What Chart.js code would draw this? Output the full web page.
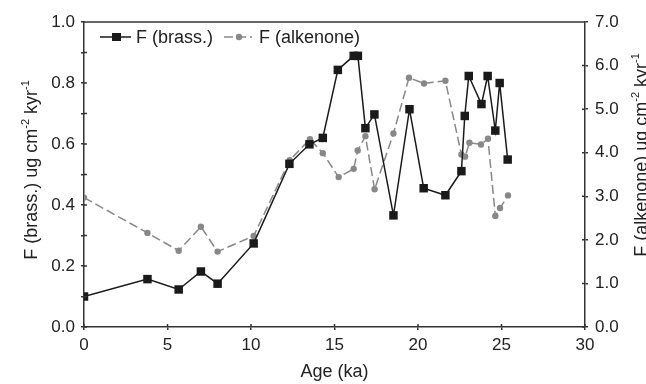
<!DOCTYPE html>
<html lang="en">
<head>
<meta charset="UTF-8" />
<title>flux vs age</title>
<script src="https://cdn.jsdelivr.net/npm/chart.js"></script>
<style>
  html, body { margin: 0; padding: 0; background: #fff; }
  #wrap { width: 646px; height: 384px; }
</style>
</head>
<body>
<div id="wrap"><canvas id="fluxChart" width="646" height="384"></canvas></div>
<script>
  // age (ka) and fluxes
  const brassAge  = [0, 3.8, 5.67, 7.0, 8.0, 10.16, 12.3, 13.5, 14.3, 15.2, 16.15, 16.4, 16.85, 17.39, 18.53, 19.49, 20.34, 21.64, 22.6, 22.8, 23.04, 23.8, 24.17, 24.63, 24.89, 25.37];
  const brassFlux = [0.10, 0.157, 0.123, 0.182, 0.142, 0.274, 0.535, 0.599, 0.62, 0.843, 0.889, 0.889, 0.652, 0.697, 0.366, 0.714, 0.455, 0.432, 0.511, 0.692, 0.823, 0.731, 0.823, 0.644, 0.80, 0.549];

  const alkAge  = [0, 3.8, 5.67, 7.0, 8.0, 10.16, 12.32, 13.53, 14.3, 15.25, 16.15, 16.39, 16.85, 17.4, 18.53, 19.46, 20.36, 21.64, 22.6, 22.82, 23.08, 23.77, 24.19, 24.63, 24.91, 25.39];
  const alkFlux = [2.97, 2.16, 1.75, 2.30, 1.73, 2.09, 3.83, 4.31, 3.99, 3.44, 3.63, 4.05, 4.38, 3.16, 4.44, 5.72, 5.59, 5.65, 3.96, 3.91, 4.23, 4.19, 4.32, 2.55, 2.73, 3.02];

  const xTicks = [0, 5, 10, 15, 20, 25, 30];
  const leftTicks = [0, 0.2, 0.4, 0.6, 0.8, 1.0];
  const rightTicks = [0, 1, 2, 3, 4, 5, 6, 7];

  const FONT = '"Liberation Sans", Arial, sans-serif';
  const AXIS = '#333';
  const TEXT = '#222';
  const IN_TICK = 3;

  function drawTitle(ctx, parts, x, y, size, rotate) {
    ctx.save();
    ctx.translate(x, y);
    if (rotate) ctx.rotate(-Math.PI / 2);
    let total = 0;
    parts.forEach(p => {
      ctx.font = (p.sup ? Math.round(size * 0.62) : size) + 'px ' + FONT;
      total += ctx.measureText(p.t).width;
    });
    let cx = -total / 2;
    ctx.fillStyle = TEXT;
    ctx.textBaseline = 'alphabetic';
    parts.forEach(p => {
      ctx.font = (p.sup ? Math.round(size * 0.62) : size) + 'px ' + FONT;
      ctx.fillText(p.t, cx, p.sup ? -size * 0.42 : 0);
      cx += ctx.measureText(p.t).width;
    });
    ctx.restore();
  }

  const decor = {
    id: 'decor',
    afterDraw(chart) {
      const ctx = chart.ctx;
      const a = chart.chartArea;
      const sx = chart.scales.x, sy = chart.scales.y, sy1 = chart.scales.y1;
      ctx.save();
      ctx.strokeStyle = AXIS;
      ctx.lineWidth = 1.5;
      ctx.beginPath();
      // top frame line
      ctx.moveTo(a.left, a.top);
      ctx.lineTo(a.right, a.top);
      // inner half of the crossing ticks
      sx.ticks.forEach(t => {
        const px = sx.getPixelForValue(t.value);
        ctx.moveTo(px, a.bottom); ctx.lineTo(px, a.bottom - IN_TICK);
      });
      sy.ticks.forEach(t => {
        const py = sy.getPixelForValue(t.value);
        ctx.moveTo(a.left, py); ctx.lineTo(a.left + IN_TICK, py);
      });
      sy1.ticks.forEach(t => {
        const py = sy1.getPixelForValue(t.value);
        ctx.moveTo(a.right, py); ctx.lineTo(a.right - IN_TICK, py);
      });
      ctx.stroke();
      ctx.restore();

      // legend inside the plot
      ctx.save();
      const ly = 37;
      ctx.strokeStyle = '#1a1a1a';
      ctx.lineWidth = 1.5;
      ctx.beginPath(); ctx.moveTo(100, ly); ctx.lineTo(131, ly); ctx.stroke();
      ctx.fillStyle = '#1a1a1a';
      ctx.fillRect(112, ly - 4, 9, 8);
      ctx.strokeStyle = '#888';
      ctx.setLineDash([9, 4]);
      ctx.beginPath(); ctx.moveTo(224, ly); ctx.lineTo(252, ly); ctx.stroke();
      ctx.setLineDash([]);
      ctx.fillStyle = '#888';
      ctx.beginPath(); ctx.arc(239, ly, 3.2, 0, Math.PI * 2); ctx.fill();
      ctx.fillStyle = TEXT;
      ctx.font = '18px ' + FONT;
      ctx.textBaseline = 'middle';
      ctx.fillText('F (brass.)', 136, ly + 1);
      ctx.fillText('F (alkenone)', 259, ly + 1);
      ctx.restore();

      drawTitle(ctx, [{t: 'Age (ka)'}], (a.left + a.right) / 2, 377, 18, false);
      drawTitle(ctx, [{t: 'F (brass.) ug cm'}, {t: '-2', sup: true}, {t: ' kyr'}, {t: '-1', sup: true}], 37, 170, 18, true);
      drawTitle(ctx, [{t: 'F (alkenone) ug cm'}, {t: '-2', sup: true}, {t: ' kyr'}, {t: '-1', sup: true}], 647, 155, 18, true);
    }
  };

  const tickFont = { family: FONT, size: 17 };

  new Chart(document.getElementById('fluxChart'), {
    type: 'line',
    data: {
      datasets: [
        {
          label: 'F (brass.)',
          data: brassAge.map((x, i) => ({ x: x, y: brassFlux[i] })),
          yAxisID: 'y',
          borderColor: '#1a1a1a',
          borderWidth: 1.5,
          pointStyle: 'rect',
          pointRadius: 6,
          pointBackgroundColor: '#1a1a1a',
          pointBorderWidth: 0,
          tension: 0
        },
        {
          label: 'F (alkenone)',
          data: alkAge.map((x, i) => ({ x: x, y: alkFlux[i] })),
          yAxisID: 'y1',
          borderColor: '#888',
          borderWidth: 1.5,
          borderDash: [9, 4],
          pointStyle: 'circle',
          pointRadius: 3.2,
          pointBackgroundColor: '#888',
          pointBorderWidth: 0,
          tension: 0
        }
      ]
    },
    options: {
      responsive: false,
      animation: false,
      layout: { padding: { top: 22, left: 0, right: 0, bottom: 0 } },
      plugins: { legend: { display: false }, tooltip: { enabled: false } },
      scales: {
        x: {
          type: 'linear',
          min: 0, max: 30,
          afterFit(s) { s.height = 384 - 327; },
          afterBuildTicks(s) { s.ticks = xTicks.map(v => ({ value: v })); },
          ticks: { font: tickFont, color: TEXT, padding: 5, maxRotation: 0 },
          grid: { drawOnChartArea: false, tickLength: 3, color: AXIS, lineWidth: 1.5 },
          border: { color: AXIS, width: 1.5 }
        },
        y: {
          position: 'left',
          min: 0, max: 1,
          afterFit(s) { s.width = 84; },
          afterBuildTicks(s) {
            const t = [];
            for (let i = 0; i <= 10; i++) t.push({ value: i / 10 });
            s.ticks = t;
          },
          ticks: {
            font: tickFont, color: TEXT, padding: 6, autoSkip: false,
            callback: v => leftTicks.some(l => Math.abs(l - v) < 1e-6) ? v.toFixed(1) : ''
          },
          grid: { drawOnChartArea: false, tickLength: 3, color: AXIS, lineWidth: 1.5 },
          border: { color: AXIS, width: 1.5 }
        },
        y1: {
          position: 'right',
          min: 0, max: 7,
          afterFit(s) { s.width = 646 - 585; },
          afterBuildTicks(s) { s.ticks = rightTicks.map(v => ({ value: v })); },
          ticks: { font: tickFont, color: TEXT, padding: 7, callback: v => v.toFixed(1) },
          grid: { drawOnChartArea: false, tickLength: 3, color: AXIS, lineWidth: 1.5 },
          border: { color: AXIS, width: 1.5 }
        }
      }
    },
    plugins: [decor]
  });
</script>
</body>
</html>
